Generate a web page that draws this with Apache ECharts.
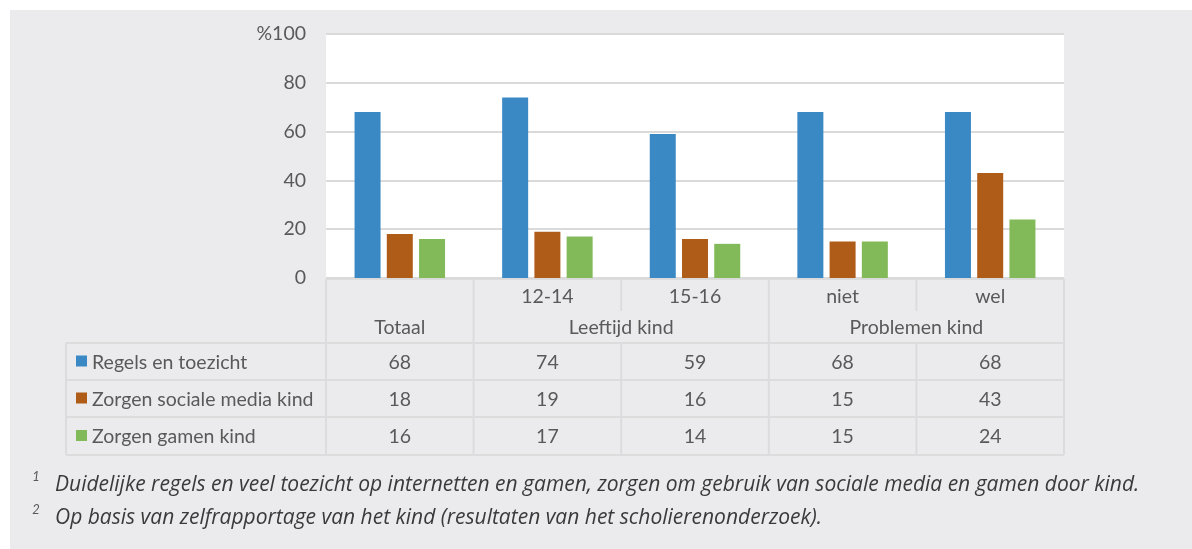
<!DOCTYPE html>
<html>
<head>
<meta charset="utf-8">
<script src="https://cdn.jsdelivr.net/npm/echarts@6/dist/echarts.min.js"></script>
<style>
  html, body { margin: 0; padding: 0; background: #fff; }
  #chart { width: 1192px; height: 549px; }
</style>
</head>
<body>
<div id="chart"></div>
<script>
// data
const categories = ['Totaal', '12-14', '15-16', 'niet', 'wel'];
const subLabels = ['', '12-14', '15-16', 'niet', 'wel'];
const groups = ['Totaal', 'Leeftijd kind', 'Problemen kind'];
const groupSpans = [1, 2, 2];
const seriesNames = ['Regels en toezicht', 'Zorgen sociale media kind', 'Zorgen gamen kind'];
const regels = [68, 74, 59, 68, 68];
const sociaal = [18, 19, 16, 15, 43];
const gamen = [16, 17, 14, 15, 24];
const footnotes = [
  'Duidelijke regels en veel toezicht op internetten en gamen, zorgen om gebruik van sociale media en gamen door kind.',
  'Op basis van zelfrapportage van het kind (resultaten van het scholierenonderzoek).'
];

const colors = ['#3a89c5', '#b05c19', '#82b959'];
const txt = '#595959';
const font = 'Lato';
const fs = 19.5;
const lineCol = '#dcdcdd';

// layout
const L = 326, R = 1064, T = 34, B = 278;
const colW = (R - L) / categories.length;
const tblLeft = 66;
const rowY = [279, 311, 343, 380, 417, 455]; // table horizontal boundaries

const chart = echarts.init(document.getElementById('chart'));

const g = [];
// white outer margin
g.push({ type: 'rect', shape: { x: 0, y: 0, width: 1192, height: 10 }, style: { fill: '#fff' } });
g.push({ type: 'rect', shape: { x: 0, y: 0, width: 10, height: 549 }, style: { fill: '#fff' } });

function hline(x1, x2, y) {
  g.push({ type: 'line', shape: { x1: x1, y1: y, x2: x2, y2: y }, style: { stroke: lineCol, lineWidth: 2 } });
}
function vline(x, y1, y2) {
  g.push({ type: 'line', shape: { x1: x, y1: y1, x2: x, y2: y2 }, style: { stroke: lineCol, lineWidth: 2 } });
}
function label(text, x, y, align) {
  g.push({
    type: 'text', x: x, y: y,
    style: { text: text, fill: txt, font: fs + 'px ' + font, align: align || 'center', verticalAlign: 'middle' }
  });
}

// table lines
hline(L, R, rowY[0]);
for (let i = 2; i < rowY.length; i++) hline(tblLeft, R, rowY[i]);
vline(tblLeft, rowY[2], rowY[5]);
// column boundaries: full height where a group starts, split inside a group
let idx = 0;
const groupStarts = [0];
groupSpans.forEach(s => { idx += s; groupStarts.push(idx); });
for (let c = 0; c <= categories.length; c++) {
  const x = L + c * colW;
  if (groupStarts.indexOf(c) >= 0) vline(x, rowY[0], rowY[5]);
  else { vline(x, rowY[0], rowY[1]); vline(x, rowY[2], rowY[5]); }
}

// header texts
subLabels.forEach((s, i) => { if (s) label(s, L + (i + 0.5) * colW, (rowY[0] + rowY[1]) / 2 + 2); });
groups.forEach((name, i) => {
  const a = groupStarts[i], b = groupStarts[i + 1];
  label(name, L + (a + b) / 2 * colW, (rowY[1] + rowY[2]) / 2 + 1);
});

// data rows
const rows = [regels, sociaal, gamen];
rows.forEach((vals, r) => {
  const cy = (rowY[r + 2] + rowY[r + 3]) / 2 + 1;
  g.push({ type: 'rect', shape: { x: 76, y: cy - 7, width: 11, height: 11 }, style: { fill: colors[r] } });
  label(seriesNames[r], 92, cy, 'left');
  vals.forEach((v, i) => label(String(v), L + (i + 0.5) * colW, cy));
});

// footnotes
footnotes.forEach((f, i) => {
  const cy = 485 + i * 33;
  g.push({ type: 'text', x: 36, y: cy - 8, style: { text: String(i + 1), fill: txt, font: 'italic 13px ' + font, align: 'center', verticalAlign: 'middle' } });
  g.push({ type: 'text', x: 55, y: cy, style: { text: f, fill: '#3a3a3a', font: 'italic 21px "Open Sans"', align: 'left', verticalAlign: 'middle' } });
});

const option = {
  backgroundColor: '#ebebed',
  animation: false,
  grid: {
    left: L, right: 1192 - R, top: T, bottom: 549 - B,
    show: true, backgroundColor: '#fff', borderWidth: 0
  },
  xAxis: {
    type: 'category', data: categories,
    axisLine: { show: false }, axisTick: { show: false }, axisLabel: { show: false }
  },
  yAxis: {
    type: 'value', min: 0, max: 100, interval: 20,
    axisLine: { show: false }, axisTick: { show: false },
    splitLine: { lineStyle: { color: '#dadada', width: 2 } },
    axisLabel: {
      color: txt, fontSize: fs, fontFamily: font, margin: 20, padding: [6, 0, 0, 0],
      formatter: v => v === 100 ? '%100' : String(v)
    }
  },
  series: [regels, sociaal, gamen].map((d, i) => ({
    name: seriesNames[i], type: 'bar', data: d,
    barWidth: 26, barGap: '24%',
    itemStyle: { color: colors[i] }
  })),
  graphic: g
};
chart.setOption(option);
</script>
</body>
</html>
